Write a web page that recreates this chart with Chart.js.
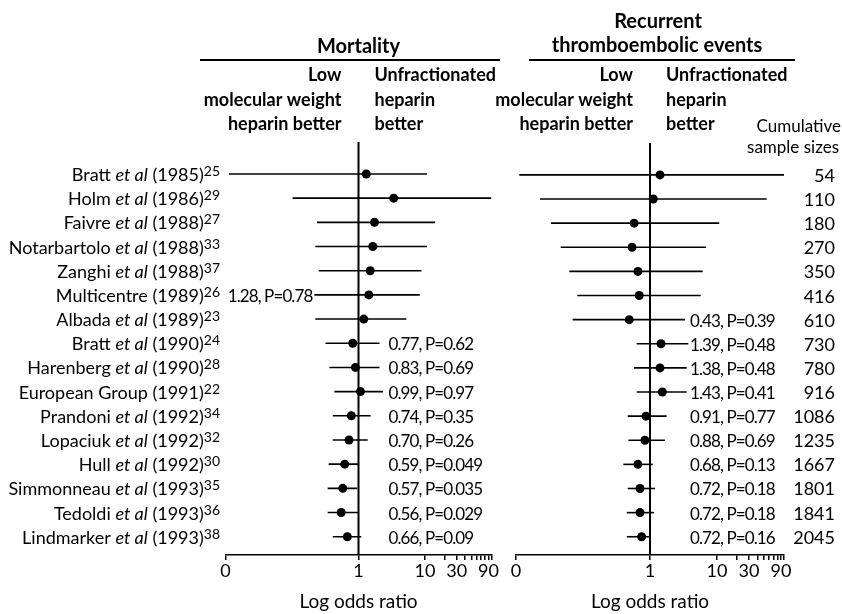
<!DOCTYPE html>
<html><head><meta charset="utf-8">
<script src="https://cdn.jsdelivr.net/npm/chart.js@4/dist/chart.umd.min.js"></script>
<style>
html,body{margin:0;padding:0;background:#fff;}
#wrap{position:relative;width:842px;height:614px;overflow:hidden;background:#fff;}
canvas{position:absolute;left:0;top:0;}
</style></head><body>
<div id="wrap"><canvas id="c1" width="842" height="614"></canvas><canvas id="c2" width="842" height="614"></canvas></div>
<script>
// ---------------- data ----------------
const studies = ["Bratt","Holm","Faivre","Notarbartolo","Zanghi","Multicentre","Albada","Bratt","Harenberg","European Group","Prandoni","Lopaciuk","Hull","Simmonneau","Tedoldi","Lindmarker"];
const etAl = [true,true,true,true,true,false,true,true,true,false,true,true,true,true,true,true];
const years = ["1985","1986","1988","1988","1988","1989","1989","1990","1990","1991","1992","1992","1992","1993","1993","1993"];
const refs = ["25","29","27","33","37","26","23","24","28","22","34","32","30","35","36","38"];
const sampleSizes = ["54","110","180","270","350","416","610","730","780","916","1086","1235","1667","1801","1841","2045"];

// Mortality: cumulative odds ratio and 95% CI
const mortOR = [1.31, 3.38, 1.74, 1.64, 1.50, 1.43, 1.20, 0.82, 0.90, 1.07, 0.78, 0.72, 0.62, 0.58, 0.55, 0.68];
const mortLo = [0.0113, 0.102, 0.238, 0.224, 0.252, 0.217, 0.224, 0.318, 0.365, 0.434, 0.41, 0.41, 0.356, 0.344, 0.344, 0.41];
const mortHi = [10.7, 100, 14.2, 10.7, 8.83, 8.33, 5.25, 2.07, 2.07, 2.33, 1.52, 1.38, 0.98, 0.96, 0.98, 1.1];
const mortLabels = ["","","","","","1.28, P=0.78","","0.77, P=0.62","0.83, P=0.69","0.99, P=0.97","0.74, P=0.35","0.70, P=0.26","0.59, P=0.049","0.57, P=0.035","0.56, P=0.029","0.66, P=0.09"];
const mortLabelSide = ["","","","","","left","","right","right","right","right","right","right","right","right","right"];

// Recurrent thromboembolic events
const rteOR = [1.41, 1.12, 0.58, 0.54, 0.66, 0.69, 0.49, 1.46, 1.41, 1.53, 0.87, 0.84, 0.66, 0.71, 0.71, 0.75];
const rteLo = [0.0112, 0.0228, 0.0333, 0.0465, 0.0625, 0.0822, 0.070, 0.633, 0.577, 0.633, 0.465, 0.475, 0.40, 0.465, 0.45, 0.45];
const rteHi = [100, 55.1, 10.8, 6.85, 6.11, 5.71, 3.33, 3.73, 3.53, 3.53, 1.77, 1.67, 1.1, 1.19, 1.15, 1.02];
const rteLabels = ["","","","","","","0.43, P=0.39","1.39, P=0.48","1.38, P=0.48","1.43, P=0.41","0.91, P=0.77","0.88, P=0.69","0.68, P=0.13","0.72, P=0.18","0.72, P=0.18","0.72, P=0.16"];

const panelTitles = ["Mortality", ["Recurrent", "thromboembolic events"]];
const leftFavours = ["Low", "molecular weight", "heparin better"];
const rightFavours = ["Unfractionated", "heparin", "better"];
const xTickValues = [0.01, 1, 10, 20, 30, 40, 50, 60, 70, 80, 90, 100];
const xTickLabels = {"0.01":"0", "1":"1", "10":"10", "30":"30", "90":"90"};
const axisTitle = "Log odds ratio";
const sampleHeader = ["Cumulative", "sample sizes"];

// ---------------- drawing ----------------
const FF = "Lato, 'Open Sans', sans-serif";
const Y_MIN = -1.323, Y_MAX = 15.757;

function drawFavours(ctx, cx) {
  ctx.font = `bold 18px ${FF}`;
  ctx.textAlign = 'right';
  leftFavours.forEach((t, k) => ctx.fillText(t, cx - 17, 81 + 24.5 * k));
  ctx.textAlign = 'left';
  rightFavours.forEach((t, k) => ctx.fillText(t, cx + 16, 81 + 24.5 * k));
}

function estimateText(ctx, text, px, py, align) {
  ctx.save();
  ctx.font = `17px ${FF}`;
  if ('letterSpacing' in ctx) ctx.letterSpacing = '-0.9px';
  ctx.textAlign = align;
  ctx.fillText(text, px, py);
  ctx.restore();
}

const leftText = {
  id: 'leftText',
  afterDraw(chart) {
    const {ctx, scales: {x, y}} = chart;
    const cx = x.getPixelForValue(1);
    ctx.save();
    ctx.fillStyle = '#000'; ctx.strokeStyle = '#000';
    ctx.textBaseline = 'alphabetic';
    ctx.font = `bold 20px ${FF}`; ctx.textAlign = 'center';
    ctx.fillText(panelTitles[0], cx, 53);
    ctx.lineWidth = 2;
    ctx.beginPath(); ctx.moveTo(200, 60); ctx.lineTo(500, 60); ctx.stroke();
    drawFavours(ctx, cx);
    // study labels
    studies.forEach((name, i) => {
      const py = y.getPixelForValue(i);
      const segs = [];
      if (etAl[i]) {
        segs.push([name + ' ', `18px ${FF}`, 0]);
        segs.push(['et al', `italic 18px ${FF}`, 0]);
        segs.push([' (' + years[i] + ')', `18px ${FF}`, 0]);
      } else {
        segs.push([name + ' (' + years[i] + ')', `18px ${FF}`, 0]);
      }
      segs.push([refs[i], `14px ${FF}`, -5]);
      let w = 0;
      segs.forEach(s => { ctx.font = s[1]; w += ctx.measureText(s[0]).width; });
      let px = 220 - w;
      ctx.textAlign = 'left';
      segs.forEach(s => { ctx.font = s[1]; ctx.fillText(s[0], px, py + 7 + s[2]); px += ctx.measureText(s[0]).width; });
      // estimate labels
      if (mortLabels[i]) {
        if (mortLabelSide[i] === 'left') {
          estimateText(ctx, mortLabels[i], x.getPixelForValue(mortLo[i]) - 2, py + 7, 'right');
        } else {
          estimateText(ctx, mortLabels[i], cx + 30, py + 7, 'left');
        }
      }
    });
    ctx.restore();
  }
};

const rightText = {
  id: 'rightText',
  afterDraw(chart) {
    const {ctx, scales: {x, y}} = chart;
    const cx = x.getPixelForValue(1);
    ctx.save();
    ctx.fillStyle = '#000'; ctx.strokeStyle = '#000';
    ctx.textBaseline = 'alphabetic';
    ctx.font = `bold 20px ${FF}`; ctx.textAlign = 'center';
    ctx.fillText(panelTitles[1][0], 658, 28);
    ctx.fillText(panelTitles[1][1], 657, 52);
    ctx.lineWidth = 2;
    ctx.beginPath(); ctx.moveTo(529, 60); ctx.lineTo(795, 60); ctx.stroke();
    drawFavours(ctx, cx);
    ctx.font = `17px ${FF}`; ctx.textAlign = 'right';
    ctx.fillText(sampleHeader[0], 841, 132);
    ctx.fillText(sampleHeader[1], 839, 153);
    sampleSizes.forEach((s, i) => {
      const py = y.getPixelForValue(i);
      ctx.font = `18px ${FF}`; ctx.textAlign = 'right';
      ctx.fillText(s, 835, py + 7);
      if (rteLabels[i]) {
        estimateText(ctx, rteLabels[i], cx + 40, py + 7, 'left');
      }
    });
    ctx.restore();
  }
};

function makePanel(id, or, lo, hi, left, right, top, plugin) {
  const datasets = [];
  datasets.push({type: 'line', data: [{x: 1, y: Y_MIN}, {x: 1, y: Y_MAX}], borderColor: '#000', borderWidth: 2, pointRadius: 0, clip: false});
  or.forEach((v, i) => {
    datasets.push({type: 'line', data: [{x: lo[i], y: i}, {x: hi[i], y: i}], borderColor: '#000', borderWidth: 1.6, pointRadius: 0});
  });
  datasets.push({type: 'scatter', data: or.map((v, i) => ({x: v, y: i})), pointRadius: 4.5, backgroundColor: '#000', borderColor: '#000', borderWidth: 0});
  new Chart(document.getElementById(id), {
    type: 'scatter',
    data: {datasets},
    options: {
      responsive: false, animation: false, events: [],
      layout: {padding: {left: left, right: 842 - right, top: top, bottom: 0}},
      plugins: {legend: {display: false}, tooltip: {enabled: false}},
      scales: {
        x: {
          type: 'logarithmic', min: 0.01, max: 100,
          afterBuildTicks: s => { s.ticks = xTickValues.map(v => ({value: v})); },
          afterFit: s => { s.height = 59; },
          ticks: {callback: v => xTickLabels[String(v)] ?? '', autoSkip: false, maxRotation: 0, font: {family: FF, size: 18}, color: '#000', padding: 0},
          grid: {display: true, drawOnChartArea: false, drawTicks: true, tickLength: 5, color: '#000', lineWidth: 1.5},
          border: {display: true, color: '#000', width: 1.5},
          title: {display: true, text: axisTitle, font: {family: FF, size: 19}, color: '#000', padding: {top: 0, bottom: 1}}
        },
        y: {type: 'linear', reverse: true, min: Y_MIN, max: Y_MAX, display: false}
      }
    },
    plugins: [plugin]
  });
}

makePanel('c1', mortOR, mortLo, mortHi, 225.5, 491.5, 142, leftText);
makePanel('c2', rteOR, rteLo, rteHi, 516, 784, 143, rightText);
</script>
</body></html>
